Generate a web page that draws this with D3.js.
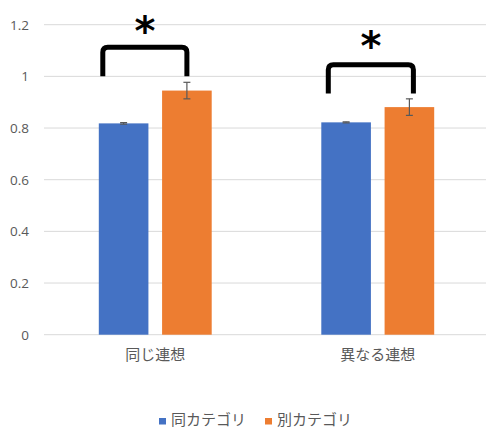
<!DOCTYPE html>
<html>
<head>
<meta charset="utf-8">
<script src="https://cdn.jsdelivr.net/npm/d3@7"></script>
<style>
  body { margin: 0; background: #fff; }
  text { font-family: "Noto Sans CJK JP", "Noto Sans", sans-serif; }
</style>
</head>
<body>
<div id="myChart"></div>
<script>
// data
const categories = ["同じ連想", "異なる連想"];
const seriesNames = ["同カテゴリ", "別カテゴリ"];
const sameValues = [0.818, 0.822];
const sameErrors = [0.003, 0.002];
const diffValues = [0.945, 0.881];
const diffErrors = [0.032, 0.032];
const yTicks = [0, 0.2, 0.4, 0.6, 0.8, 1, 1.2];
// significance brackets: leg bottom value, top value, star value
const bracketLow = [1.0, 0.934];
const bracketTop = [1.113, 1.045];
const starLevel = [1.205, 1.148];

const colors = ["#4472C4", "#ED7D31"];
const w = 486, h = 427;
const padLeft = 44, padRight = 489, padTop = 24.7, padBottom = 334.7;

const svg = d3.select("#myChart").append("svg")
  .attr("width", w).attr("height", h);

const x0 = d3.scaleBand().domain(categories).range([padLeft, padRight]).paddingInner(0).paddingOuter(0);
const x1 = d3.scaleBand().domain(seriesNames).range([54.8, x0.bandwidth() - 54.8]).paddingInner(0.216).paddingOuter(0);
const y = d3.scaleLinear().domain([0, 1.2]).range([padBottom, padTop]);

// gridlines
svg.append("g").selectAll("line").data(yTicks).enter().append("line")
  .attr("x1", padLeft).attr("x2", padRight)
  .attr("y1", d => y(d)).attr("y2", d => y(d))
  .attr("stroke", "#d9d9d9").attr("stroke-width", 1);

// y axis labels
const yAxis = d3.axisLeft(y).tickValues(yTicks).tickSize(0).tickPadding(0).tickFormat(d => String(d));
const ya = svg.append("g").attr("transform", "translate(29,0)").call(yAxis);
ya.select(".domain").remove();
ya.selectAll("text").attr("fill", "#595959").style("font-size", "13.5px").style("font-family", "'Open Sans', 'Noto Sans', sans-serif");

// x axis labels
const xAxis = d3.axisBottom(x0).tickSize(0).tickPadding(0);
const xa = svg.append("g").attr("transform", "translate(0," + (padBottom + 15) + ")").call(xAxis);
xa.select(".domain").remove();
xa.selectAll("text").attr("fill", "#595959").style("font-size", "15px").style("font-family", "'Noto Sans CJK JP', sans-serif");

const rows = categories.map((c, i) => ({
  cat: c,
  bars: [
    { s: seriesNames[0], v: sameValues[i], e: sameErrors[i], c: colors[0] },
    { s: seriesNames[1], v: diffValues[i], e: diffErrors[i], c: colors[1] }
  ]
}));

const g = svg.selectAll("g.grp").data(rows).enter().append("g")
  .attr("class", "grp")
  .attr("transform", d => "translate(" + x0(d.cat) + ",0)");

g.selectAll("rect").data(d => d.bars).enter().append("rect")
  .attr("x", d => x1(d.s))
  .attr("y", d => y(d.v))
  .attr("width", x1.bandwidth())
  .attr("height", d => y(0) - y(d.v))
  .attr("fill", d => d.c);

// error bars
const eb = g.selectAll("g.err").data(d => d.bars).enter().append("g").attr("class", "err")
  .attr("stroke", "#595959").attr("stroke-width", 1.2);
eb.append("line")
  .attr("x1", d => x1(d.s) + x1.bandwidth() / 2).attr("x2", d => x1(d.s) + x1.bandwidth() / 2)
  .attr("y1", d => y(d.v + d.e)).attr("y2", d => y(d.v - d.e));
eb.append("line")
  .attr("x1", d => x1(d.s) + x1.bandwidth() / 2 - 3.5).attr("x2", d => x1(d.s) + x1.bandwidth() / 2 + 3.5)
  .attr("y1", d => y(d.v + d.e)).attr("y2", d => y(d.v + d.e));
eb.append("line")
  .attr("x1", d => x1(d.s) + x1.bandwidth() / 2 - 3.5).attr("x2", d => x1(d.s) + x1.bandwidth() / 2 + 3.5)
  .attr("y1", d => y(d.v - d.e)).attr("y2", d => y(d.v - d.e));

// significance brackets
g.each(function (d, i) {
  const xl = x1(seriesNames[0]) + 4 + i * 3;
  const xr = x1(seriesNames[1]) + x1.bandwidth() / 2 + i * 4;
  const yb = y(bracketLow[i]), yt = y(bracketTop[i]), r = 5;
  const p = "M" + xl + "," + yb + " L" + xl + "," + (yt + r) +
    " Q" + xl + "," + yt + " " + (xl + r) + "," + yt +
    " L" + (xr - r) + "," + yt +
    " Q" + xr + "," + yt + " " + xr + "," + (yt + r) +
    " L" + xr + "," + yb;
  d3.select(this).append("path").attr("d", p)
    .attr("fill", "none").attr("stroke", "#000").attr("stroke-width", 5);
  d3.select(this).append("text")
    .attr("x", (xl + xr) / 2)
    .attr("y", y(starLevel[i]) + 22)
    .attr("text-anchor", "middle")
    .style("font-family", "'DejaVu Sans', sans-serif")
    .style("font-size", "40px")
    .style("font-weight", "bold")
    .text("*");
});

// legend
const legend = svg.append("g").attr("id", "legend").attr("transform", "translate(159,420)");
const legX = [0, 106];
seriesNames.forEach((s, i) => {
  legend.append("rect").attr("x", legX[i]).attr("y", -2).attr("width", 7).attr("height", 6.5).attr("fill", colors[i]);
  legend.append("text").attr("x", legX[i] + 12).attr("y", 4.5)
    .attr("fill", "#595959").style("font-size", "15px").text(s);
});
</script>
</body>
</html>
